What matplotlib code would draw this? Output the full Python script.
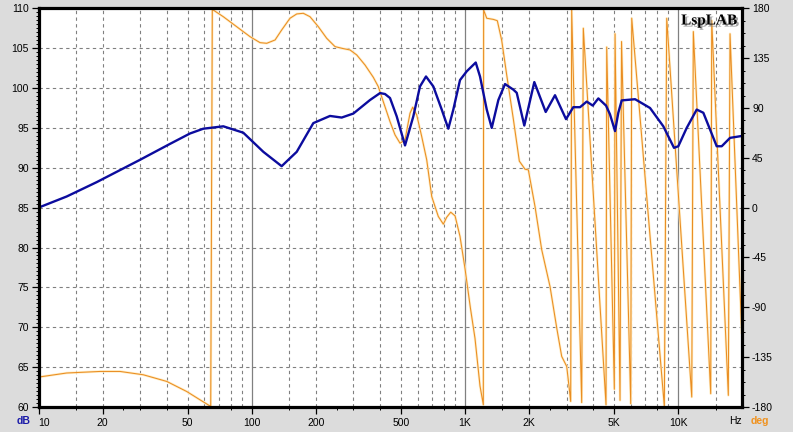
import matplotlib

matplotlib.use("Agg")
import matplotlib.pyplot as plt  # noqa: E402
import matplotlib.patheffects as pe  # noqa: E402
from matplotlib.ticker import FixedLocator, NullFormatter  # noqa: E402

plt.rcParams["font.family"] = ["Liberation Sans", "DejaVu Sans"]

# magnitude response
spl_hz = [10, 13.56, 18.75, 29.93, 41.4, 51.35, 59.3, 73.6, 91.3, 113.4,
          138.2, 151.2, 162.6, 177.8, 194.5, 232.9, 264.3, 299.7, 358.9, 400,
          421.9, 445.3, 478.7, 523.7, 572.8, 615.5, 656.9, 711, 778.5, 836,
          882.3, 948.5, 1020, 1124, 1177, 1266, 1336, 1435, 1542, 1687,
          1750, 1899, 2116, 2393, 2646, 2980, 3224, 3467, 3727, 3977,
          4225, 4590, 4792, 5060, 5242, 5438, 6281, 7383, 8524, 9568,
          10020, 10972, 12224, 13130, 14116, 15171, 16018, 17517, 20000]
spl_db = [85.0, 86.4, 88.2, 91.0, 93.0, 94.3, 94.9, 95.2, 94.4, 92.0,
          90.2, 91.2, 92.0, 93.8, 95.6, 96.5, 96.3, 96.8, 98.5, 99.37,
          99.25, 98.75, 96.45, 92.8, 96.45, 100.2, 101.45, 100.2, 97.3, 94.9,
          97.3, 101.0, 102.1, 103.2, 101.45, 97.3, 95.0, 98.5, 100.5, 99.8,
          99.4, 95.3, 100.75, 97.0, 99.1, 96.1, 97.6, 97.6, 98.3, 97.8,
          98.7, 97.8, 96.7, 94.6, 96.9, 98.45, 98.6, 97.5, 95.2, 92.5,
          92.7, 95.0, 97.3, 96.9, 94.8, 92.7, 92.7, 93.75, 94.0]

# wrapped phase (wraps are pairs at nearly equal Hz)
phase_hz = [10, 13.56, 19.43, 24.12, 31.01, 39.94, 49.56, 57.2, 64.23,
            65.35, 73.6, 85.0, 98.2, 109.4, 117.6, 128.7, 138.2, 151.2, 162.6,
            174.6, 187.7, 205.3, 224.8, 245.9, 268.9, 289.1, 310.8, 340.0,
            371.8, 392.4, 414.2, 445.3, 470.1, 496.2, 523.7, 552.8, 569.2,
            594.3, 627.3, 662.1, 698.9, 750.4, 792.1, 821.7, 858.0, 898.9,
            948.5, 1001, 1060, 1115, 1177, 1220,
            1224, 1266, 1359, 1419, 1488, 1570, 1687, 1800, 1914, 1984,
            2132, 2292, 2507, 2696, 2844, 3003, 3089, 3134,
            3168, 3530,
            3592, 4590,
            4625, 5022,
            5060, 5340,
            5428, 5995,
            6060, 8617,
            8843, 11585,
            11786, 14220,
            14375, 17200,
            17517, 19871]
phase_deg = [-153, -149.3, -147.9, -147.9, -150.9, -156.9, -166, -173.5, -179.5,
             179, 172.4, 163.4, 154.4, 149, 148.4, 151.4, 160.4, 171, 174.9,
             175.5, 172.4, 163.4, 152.9, 145.4, 143.6, 142.4, 137.9, 128.8,
             117.7, 109.3, 95.7, 77.7, 65.7, 58.2, 61.2, 85.3, 90.7,
             83.7, 64.1, 43.1, 10, -8, -14.9, -8.6, -4.1, -7.4,
             -26, -55, -90, -118, -161, -178,
             178.5, 171, 170, 168.8, 151, 120, 80, 42, 34.7, 34.1,
             1, -38, -71.2, -108.7, -134.3, -143.4, -164, -175,
             178.5, -176,
             162, -178,
             145, -164,
             157, -174,
             150, -177,
             171, -179.5,
             171, -171,
             159, -168,
             169, -169.5,
             157, -113]

x_major = [10, 20, 50, 100, 200, 500, 1000, 2000, 5000, 10000]
x_labels = ["10", "20", "50", "100", "200", "500", "1K", "2K", "5K", "10K"]
x_minor = [15, 25, 30, 40, 80, 150, 250, 300, 400, 800,
           1500, 2500, 3000, 4000, 8000, 15000]
grid_dashed = [15, 20, 30, 40, 50, 60, 70, 80, 90,
               150, 200, 300, 400, 500, 600, 700, 800, 900,
               1500, 2000, 3000, 4000, 5000, 6000, 7000, 8000, 9000, 15000]
grid_solid = [100, 1000, 10000]
db_ticks = list(range(60, 111, 5))
deg_ticks = list(range(-180, 181, 45))

BG = "#dcdcdc"
BLUE = "#0c0c9e"
ORANGE = "#ea8d22"
GRID = "#808080"

fig = plt.figure(figsize=(7.93, 4.32), dpi=100, facecolor=BG)
ax = fig.add_axes([38.5 / 793, 1 - 407 / 432, (742.3 - 38.5) / 793, (407 - 8.3) / 432])
ax2 = ax.twinx()
ax.set_zorder(ax2.get_zorder() + 1)
ax.patch.set_visible(False)
ax2.patch.set_visible(True)
ax2.patch.set_facecolor("white")

ax.set_xscale("log")
ax.set_xlim(10, 20000)
ax.set_ylim(60, 110)
ax2.set_ylim(-180, 180)

# grid
for f in grid_dashed:
    ax.axvline(f, color=GRID, lw=0.8, ls=(0, (3, 3)), zorder=0.5)
for f in grid_solid:
    ax.axvline(f, color=GRID, lw=0.9, zorder=0.5)
for d in db_ticks[1:-1]:
    ax.axhline(d, color=GRID, lw=0.8, ls=(0, (3, 3)), zorder=0.5)

# curves
ax.plot(phase_hz, phase_deg, color=ORANGE, lw=0.75, transform=ax2.transData,
        zorder=1, path_effects=[pe.Stroke(linewidth=1.8, foreground="#ffedc4"), pe.Normal()])
ax.plot(spl_hz, spl_db, color=BLUE, lw=1.7, zorder=2, solid_joinstyle="round")
ax.set_xlim(10, 20000)
ax.set_ylim(60, 110)

# axes frame
for s in ax.spines.values():
    s.set_linewidth(2.3)
    s.set_color("black")
for s in ax2.spines.values():
    s.set_visible(False)

ax.xaxis.set_major_locator(FixedLocator(x_major))
ax.set_xticklabels(x_labels)
ax.xaxis.set_minor_locator(FixedLocator(x_minor))
ax.xaxis.set_minor_formatter(NullFormatter())
ax.get_xticklabels()[0].set_horizontalalignment("left")

ax.yaxis.set_major_locator(FixedLocator(db_ticks))
ax.yaxis.set_minor_locator(FixedLocator([60 + 0.5 * i for i in range(101)]))
ax2.yaxis.set_major_locator(FixedLocator(deg_ticks))
ax2.yaxis.set_minor_locator(FixedLocator([-180 + 11.25 * i for i in range(33)]))
ax2.set_yticklabels([str(d) for d in deg_ticks])

ax.tick_params(axis="both", which="major", length=5, width=0.9, labelsize=7.5,
               colors="black", pad=2)
ax.tick_params(axis="both", which="minor", length=2.5, width=0.7)
ax.tick_params(axis="x", which="major", pad=3)
ax2.tick_params(axis="y", which="major", length=5, width=0.9, labelsize=7.5, pad=2)
ax2.tick_params(axis="y", which="minor", length=2.5, width=0.7)

fig.text(24 / 793, 1 - 421.5 / 432, "dB", color="#1a1aa8", fontsize=7.5,
         fontweight="bold", ha="center", va="center")
fig.text(735 / 793, 1 - 421.5 / 432, "Hz", color="black", fontsize=7.5,
         ha="center", va="center")
fig.text(760 / 793, 1 - 421.5 / 432, "deg", color="#f0921e", fontsize=7.5,
         fontweight="bold", ha="center", va="center")

fig.text(737 / 793, 1 - 21 / 432, "LspLAB", fontsize=11, fontweight="bold",
         family="Liberation Serif", ha="right", va="center", color="black",
         path_effects=[pe.SimplePatchShadow(offset=(1.5, -1.5), shadow_rgbFace="#808080",
                                            alpha=0.7), pe.Normal()])

fig.savefig("out.png", dpi=100, facecolor=BG)
